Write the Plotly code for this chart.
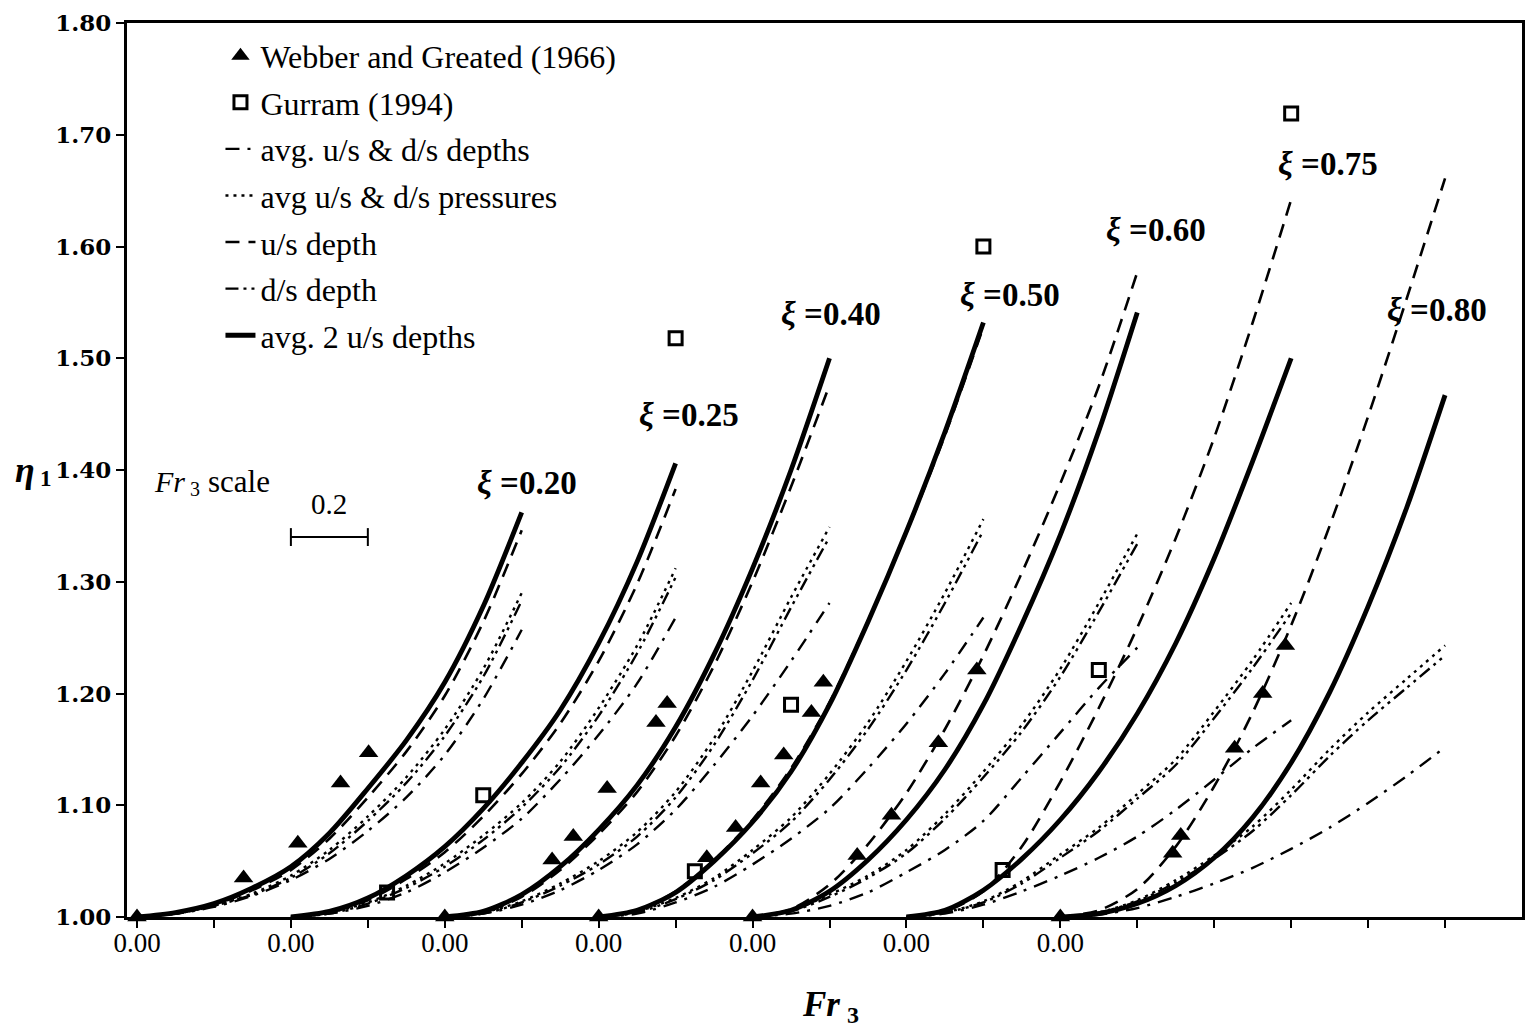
import plotly.graph_objects as go

# Froude number grid along every curve (each family is drawn over Fr3 = 0 .. 1)
FR = [0.0, 0.1, 0.2, 0.3, 0.4, 0.5, 0.6, 0.7, 0.8, 0.9, 1.0]

# relative gate opening of each family; families are shifted right along Fr3
XI = ["0.20", "0.25", "0.40", "0.50", "0.60", "0.75", "0.80"]
FAMILY_SHIFT = 0.4

# eta1 along FR for each family (one row per ξ)
AVG_2_US = [  # avg. 2 u/s depths (solid)
    [1.000, 1.004, 1.012, 1.026, 1.045, 1.075, 1.115, 1.158, 1.210, 1.278, 1.362],
    [1.000, 1.005, 1.017, 1.037, 1.063, 1.097, 1.138, 1.185, 1.245, 1.318, 1.406],
    [1.000, 1.005, 1.020, 1.045, 1.078, 1.118, 1.170, 1.235, 1.312, 1.400, 1.500],
    [1.000, 1.006, 1.022, 1.050, 1.085, 1.130, 1.190, 1.264, 1.345, 1.434, 1.532],
    [1.000, 1.006, 1.023, 1.051, 1.087, 1.132, 1.190, 1.262, 1.342, 1.435, 1.541],
    [1.000, 1.006, 1.024, 1.052, 1.087, 1.130, 1.182, 1.245, 1.321, 1.408, 1.500],
    [1.000, 1.003, 1.012, 1.028, 1.053, 1.089, 1.138, 1.201, 1.278, 1.366, 1.467],
]
US_DEPTH = [  # u/s depth (dashed)
    [1.000, 1.004, 1.011, 1.024, 1.042, 1.070, 1.107, 1.148, 1.198, 1.264, 1.346],
    [1.000, 1.004, 1.015, 1.034, 1.058, 1.090, 1.128, 1.173, 1.229, 1.298, 1.383],
    [1.000, 1.004, 1.018, 1.042, 1.074, 1.112, 1.162, 1.225, 1.300, 1.385, 1.476],
    [1.000, 1.006, 1.023, 1.051, 1.087, 1.133, 1.192, 1.265, 1.344, 1.431, 1.528],
    [1.000, 1.007, 1.029, 1.065, 1.111, 1.168, 1.234, 1.308, 1.388, 1.475, 1.577],
    [1.000, 1.005, 1.023, 1.063, 1.121, 1.187, 1.259, 1.339, 1.429, 1.532, 1.642],
    [1.000, 1.006, 1.025, 1.063, 1.117, 1.183, 1.261, 1.350, 1.448, 1.553, 1.661],
]
AVG_PRESSURES = [  # avg u/s & d/s pressures (dotted)
    [1.000, 1.003, 1.010, 1.021, 1.037, 1.060, 1.090, 1.125, 1.168, 1.222, 1.290],
    [1.000, 1.004, 1.013, 1.028, 1.048, 1.073, 1.102, 1.139, 1.187, 1.243, 1.312],
    [1.000, 1.004, 1.014, 1.030, 1.050, 1.076, 1.112, 1.160, 1.220, 1.286, 1.349],
    [1.000, 1.005, 1.017, 1.035, 1.060, 1.089, 1.128, 1.174, 1.229, 1.290, 1.356],
    [1.000, 1.006, 1.020, 1.037, 1.060, 1.092, 1.130, 1.172, 1.222, 1.281, 1.343],
    [1.000, 1.004, 1.014, 1.032, 1.056, 1.080, 1.110, 1.141, 1.184, 1.230, 1.281],
    [1.000, 1.004, 1.015, 1.033, 1.055, 1.081, 1.114, 1.150, 1.183, 1.213, 1.243],
]
DS_DEPTH = [  # d/s depth (dash-dot-dot)
    [1.000, 1.003, 1.010, 1.020, 1.035, 1.057, 1.086, 1.120, 1.162, 1.215, 1.283],
    [1.000, 1.003, 1.012, 1.026, 1.045, 1.069, 1.098, 1.134, 1.180, 1.236, 1.304],
    [1.000, 1.003, 1.013, 1.028, 1.047, 1.072, 1.107, 1.154, 1.212, 1.277, 1.340],
    [1.000, 1.004, 1.016, 1.033, 1.057, 1.085, 1.123, 1.168, 1.221, 1.281, 1.346],
    [1.000, 1.005, 1.018, 1.035, 1.057, 1.088, 1.125, 1.166, 1.215, 1.273, 1.334],
    [1.000, 1.004, 1.013, 1.030, 1.053, 1.077, 1.106, 1.136, 1.178, 1.223, 1.272],
    [1.000, 1.004, 1.014, 1.031, 1.052, 1.077, 1.109, 1.144, 1.176, 1.205, 1.234],
]
AVG_DEPTHS = [  # avg. u/s & d/s depths (dash-dot)
    [1.000, 1.003, 1.009, 1.019, 1.033, 1.052, 1.077, 1.107, 1.145, 1.195, 1.257],
    [1.000, 1.003, 1.010, 1.022, 1.040, 1.062, 1.088, 1.123, 1.163, 1.209, 1.268],
    [1.000, 1.003, 1.011, 1.024, 1.042, 1.065, 1.096, 1.136, 1.180, 1.229, 1.281],
    [1.000, 1.003, 1.013, 1.027, 1.047, 1.070, 1.097, 1.133, 1.173, 1.218, 1.268],
    [1.000, 1.003, 1.010, 1.022, 1.040, 1.060, 1.086, 1.125, 1.165, 1.205, 1.241],
    [1.000, 1.003, 1.011, 1.023, 1.037, 1.053, 1.072, 1.096, 1.123, 1.151, 1.176],
    [1.000, 1.002, 1.008, 1.018, 1.030, 1.044, 1.061, 1.080, 1.102, 1.126, 1.152],
]

# Webber and Greated (1966): family index, Fr3, eta1
WG_FAMILY = [0, 0, 0, 0, 0,
             2, 2, 2, 2, 2, 2,
             3, 3, 3, 3, 3, 3, 3,
             4, 4, 4, 4, 4,
             6, 6, 6, 6, 6, 6]
WG_FR = [0.0, 0.277, 0.418, 0.529, 0.602,
         0.0, 0.279, 0.334, 0.422, 0.549, 0.578,
         0.0, 0.281, 0.356, 0.421, 0.481, 0.553, 0.584,
         0.0, 0.272, 0.361, 0.483, 0.583,
         0.0, 0.292, 0.313, 0.453, 0.526, 0.585]
WG_ETA = [1.000, 1.035, 1.066, 1.120, 1.147,
          1.000, 1.051, 1.072, 1.115, 1.174, 1.191,
          1.000, 1.053, 1.080, 1.120, 1.145, 1.183, 1.210,
          1.000, 1.055, 1.091, 1.156, 1.221,
          1.000, 1.057, 1.073, 1.151, 1.200, 1.243]

# Gurram (1994): family index, Fr3, eta1
GU_FAMILY = [1, 1, 1, 3, 3, 3, 5, 5, 5]
GU_FR = [0.25, 0.50, 1.00, 0.25, 0.50, 1.00, 0.25, 0.50, 1.00]
GU_ETA = [1.022, 1.109, 1.518, 1.041, 1.190, 1.600, 1.042, 1.221, 1.719]

# where each "ξ =" label sits, relative to its family origin
XI_LABEL_DX = [1.014, 1.034, 1.005, 1.069, 1.048, 1.096, 0.979]
XI_LABEL_ETA = [1.388, 1.449, 1.540, 1.557, 1.615, 1.674, 1.543]

Y_TICKS = [1.0, 1.1, 1.2, 1.3, 1.4, 1.5, 1.6, 1.7, 1.8]

SERIF = "Liberation Serif"
BLACK = "#000000"

fig = go.Figure()


def shifted(family, values):
    return [FAMILY_SHIFT * family + v for v in values]


def note(text, size, **kw):
    """Plain text annotation in the chart's serif face."""
    fig.add_annotation(text=text, showarrow=False,
                       font=dict(family=SERIF, size=size, color=BLACK), **kw)


# curve styles: (rows, legend name, dash, width, legend rank)
CURVES = [
    (AVG_DEPTHS, "avg. u/s &amp; d/s depths", "14px,8px,3px,8px", 2.4, 3),
    (AVG_PRESSURES, "avg u/s &amp; d/s pressures", "3px,5px", 2.4, 4),
    (US_DEPTH, "u/s depth", "14px,9px", 2.6, 5),
    (DS_DEPTH, "d/s depth", "13px,5px,3px,5px,3px,5px", 2.4, 6),
    (AVG_2_US, "avg. 2 u/s depths", "solid", 4.8, 7),
]

for rows, name, dash, width, rank in CURVES:
    for k, row in enumerate(rows):
        fig.add_trace(go.Scatter(
            x=shifted(k, FR), y=row, mode="lines",
            line=dict(color=BLACK, width=width, dash=dash, shape="spline", smoothing=0.8),
            name=name, legendgroup=name, showlegend=(k == 0), legendrank=rank,
            hoverinfo="skip",
        ))

fig.add_trace(go.Scatter(
    x=[FAMILY_SHIFT * f + fr for f, fr in zip(WG_FAMILY, WG_FR)], y=WG_ETA,
    mode="markers", name="Webber and Greated (1966)", legendgroup="wg", legendrank=1,
    marker=dict(symbol="triangle-up", size=17, color=BLACK),
    cliponaxis=False,
))
fig.add_trace(go.Scatter(
    x=[FAMILY_SHIFT * f + fr for f, fr in zip(GU_FAMILY, GU_FR)], y=GU_ETA,
    mode="markers", name="Gurram (1994)", legendgroup="gu", legendrank=2,
    marker=dict(symbol="square-open", size=13, color=BLACK, line=dict(width=3, color=BLACK)),
    cliponaxis=False,
))

# ξ labels
for k, label in enumerate(XI):
    note("<b><i>ξ</i> =" + label + "</b>", 33,
         x=FAMILY_SHIFT * k + XI_LABEL_DX[k], y=XI_LABEL_ETA[k],
         xanchor="center", yanchor="middle")

# Fr3 scale bar of length 0.2
SCALE_START = 0.4
SCALE_LEN = 0.2
SCALE_ETA = 1.340
fig.add_shape(type="line", x0=SCALE_START, x1=SCALE_START + SCALE_LEN, y0=SCALE_ETA, y1=SCALE_ETA,
              line=dict(color=BLACK, width=2))
for xe in (SCALE_START, SCALE_START + SCALE_LEN):
    fig.add_shape(type="line", x0=xe, x1=xe, y0=SCALE_ETA - 0.008, y1=SCALE_ETA + 0.008,
                  line=dict(color=BLACK, width=2))
note("0.2", 29, x=SCALE_START + SCALE_LEN / 2, y=1.370, xanchor="center", yanchor="middle")

# "Fr3 scale" caption: symbol, subscript and word set as separate pieces
note("<i>Fr</i>", 30, x=0.040, y=1.390, xanchor="left", yanchor="middle")
note("3", 20, x=0.133, y=1.383, xanchor="left", yanchor="middle")
note("scale", 31, x=0.180, y=1.390, xanchor="left", yanchor="middle")

# y-axis title, written horizontally
note("<b><i>η</i></b>", 36, x=-0.0645, xref="paper", y=1.40, xanchor="right", yanchor="middle")
note("<b>1</b>", 23, x=-0.0635, xref="paper", y=1.392, xanchor="left", yanchor="middle")

# x-axis title below the tick labels
note("<b><i>Fr</i></b>", 35, x=0.5125, xref="paper", y=-0.098, yref="paper",
     xanchor="right", yanchor="middle")
note("<b>3</b>", 24, x=0.5150, xref="paper", y=-0.110, yref="paper",
     xanchor="left", yanchor="middle")

# labelled ticks at every family origin, plain ticks every 0.2 in between
x_major = [round(FAMILY_SHIFT * k, 1) for k in range(len(XI))]
x_minor = [round(0.2 * i, 1) for i in range(18) if round(0.2 * i, 1) not in x_major]

fig.update_layout(
    width=1534, height=1034,
    margin=dict(l=127, r=9, t=22, b=117),
    plot_bgcolor="white", paper_bgcolor="white",
    showlegend=True,
    legend=dict(
        x=0.067, y=0.994, xanchor="left", yanchor="top",
        bgcolor="rgba(0,0,0,0)", borderwidth=0,
        font=dict(family=SERIF, size=32, color=BLACK),
        traceorder="grouped", tracegroupgap=2, itemwidth=30,
    ),
    xaxis=dict(
        range=[-0.026, 3.6], showgrid=False, zeroline=False,
        showline=True, linecolor=BLACK, linewidth=3, mirror=True,
        ticks="outside", ticklen=8, tickwidth=2, tickcolor=BLACK,
        tickvals=x_major, ticktext=["0.00"] * len(x_major),
        tickfont=dict(family=SERIF, size=27, color=BLACK),
        ticklabelstandoff=-8,
        minor=dict(tickvals=x_minor, ticks="outside", ticklen=8, tickwidth=2,
                   tickcolor=BLACK, showgrid=False),
    ),
    yaxis=dict(
        range=[1.0, 1.8], showgrid=False, zeroline=False,
        showline=True, linecolor=BLACK, linewidth=3, mirror=True,
        ticks="outside", ticklen=8, tickwidth=2, tickcolor=BLACK,
        tickvals=Y_TICKS, ticktext=[f"{v:.2f}" for v in Y_TICKS],
        tickfont=dict(family="DejaVu Serif", size=23, color=BLACK, weight="bold"),
    ),
)

fig.write_html("out.html")
